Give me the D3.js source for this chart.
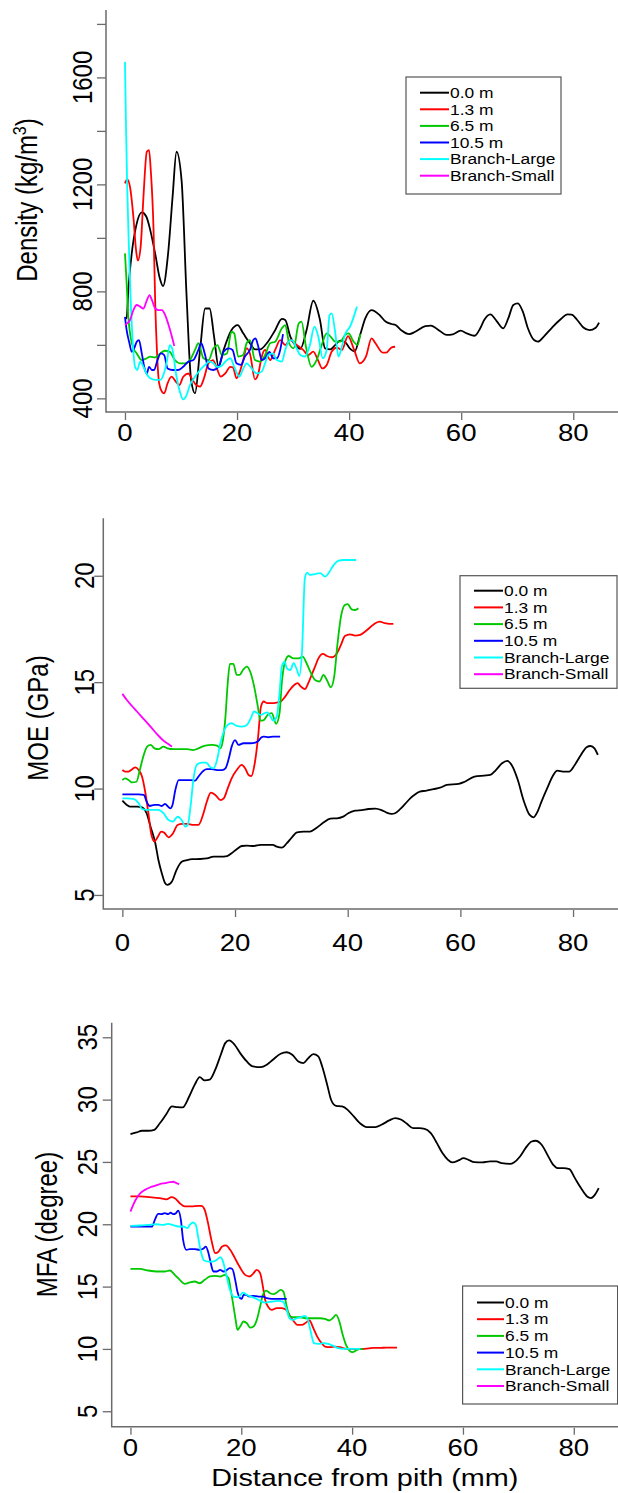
<!DOCTYPE html>
<html>
<head>
<meta charset="utf-8">
<script src="https://cdn.jsdelivr.net/npm/d3@7"></script>
<style>
  html, body { margin: 0; padding: 0; background: #fff; }
  svg { display: block; }
</style>
</head>
<body>
<svg id="chart" width="618" height="1493"></svg>
<script>
// ---------------- DATA ----------------
const seriesNames = ["0.0 m", "1.3 m", "6.5 m", "10.5 m", "Branch-Large", "Branch-Small"];
const seriesColors = ["#000000", "#ff0000", "#00c800", "#0000ff", "#00ffff", "#ff00ff"];
const xTickValues = [0, 20, 40, 60, 80];

const densityTicks = [400, 600, 800, 1000, 1200, 1400, 1600, 1800];
const densityTickLabels = [400, 800, 1200, 1600];
const moeTicks = [5, 10, 15, 20];
const moeTickLabels = [5, 10, 15, 20];
const mfaTicks = [5, 10, 15, 20, 25, 30, 35];
const mfaTickLabels = [5, 10, 15, 20, 25, 30, 35];

// Density (kg/m3) vs distance from pith (mm)
const density00 = [[0,699],[0.3,700],[0.6,805],[1.2,940],[2.0,1045],[3.0,1095],[3.8,1080],[4.5,1030],[5.4,940],[6.2,850],[6.8,820],[7.7,942],[8.5,1154],[9.2,1322],[10.1,1216],[11.0,780],[11.8,469],[12.5,419],[13.4,581],[14.3,736],[15.1,736],[15.9,631],[16.7,518],[17.6,581],[19.0,655],[20.1,674],[21.1,643],[22.3,606],[23.2,583],[24.1,583],[25.3,606],[26.8,655],[28.0,697],[28.6,693],[29.5,631],[30.4,599],[31.3,585],[32.4,655],[33.6,765],[34.8,693],[35.7,587],[36.6,583],[37.5,599],[38.4,616],[39.3,610],[40.2,585],[41.0,576],[42.0,640],[42.9,700],[44.0,730],[45.4,712],[46.5,687],[47.6,678],[48.3,674],[49.3,655],[50.7,640],[51.8,649],[53.6,670],[54.6,672],[56.0,655],[57.4,637],[58.5,639],[59.9,653],[61.0,643],[62.4,634],[63.4,662],[64.1,693],[65.2,714],[66.3,690],[67.5,662],[68.4,699],[69.3,749],[70.1,755],[71.0,724],[71.9,662],[73.0,618],[73.7,612],[74.7,630],[76.1,662],[77.6,693],[79.0,714],[79.7,713],[80.7,693],[81.8,665],[82.9,655],[84.0,664],[84.6,683]];
const density13 = [[0,1204],[0.4,1219],[0.9,1191],[1.5,1079],[2.0,950],[2.3,915],[2.8,967],[3.3,1154],[3.9,1322],[4.3,1328],[4.6,1254],[5.1,1029],[5.4,755],[5.7,581],[6.1,456],[6.6,425],[7.0,419],[7.6,456],[8.3,481],[9.1,462],[9.7,450],[10.4,481],[11.3,493],[11.9,475],[12.7,450],[13.4,444],[14.1,475],[14.9,531],[15.7,543],[16.3,518],[17.1,481],[17.9,493],[18.8,518],[19.3,515],[19.9,475],[20.5,500],[21.1,543],[21.7,587],[22.3,568],[23.2,471],[23.8,493],[24.4,556],[25.0,581],[25.9,543],[26.8,581],[27.7,618],[28.6,599],[29.5,618],[30.7,599],[31.8,581],[32.7,562],[33.6,575],[34.5,540],[35.2,512],[36.0,525],[36.9,575],[37.8,590],[38.7,581],[39.8,633],[40.9,581],[41.9,531],[43.0,556],[44.0,624],[44.7,606],[46.0,571],[46.6,571],[47.6,591],[48.2,593]];
const density65 = [[0,942],[0.3,830],[0.6,705],[1.0,630],[1.5,587],[2.1,568],[3.0,543],[3.9,550],[4.5,556],[5.4,553],[6.3,568],[7.1,578],[8.0,574],[8.9,543],[9.8,531],[10.7,531],[11.6,543],[12.5,581],[13.1,606],[14.0,550],[14.9,543],[15.8,587],[16.5,599],[17.3,562],[18.2,568],[19.0,649],[19.5,643],[20.2,556],[21.1,562],[21.7,606],[22.3,618],[23.2,543],[24.1,537],[25.0,562],[25.9,606],[26.8,612],[28.0,662],[28.6,674],[29.3,606],[30.1,587],[31.0,680],[31.5,687],[32.3,593],[33.3,518],[34.2,543],[35.1,599],[36.0,643],[36.7,631],[37.5,612],[38.4,612],[39.3,637],[39.9,643],[40.8,612],[41.5,600],[42.0,640]];
const density105 = [[0,705],[0.3,655],[0.8,606],[1.2,574],[1.7,590],[2.1,612],[2.5,618],[3.0,568],[3.5,512],[3.9,493],[4.3,518],[4.8,506],[5.2,506],[5.8,543],[6.4,568],[7.0,562],[7.6,512],[8.5,506],[9.5,506],[10.4,518],[11.3,537],[12.2,543],[13.1,581],[13.6,606],[14.3,562],[14.9,512],[15.8,506],[16.7,518],[17.6,574],[18.5,587],[19.2,581],[19.9,531],[20.7,525],[21.4,556],[22.3,581],[22.9,618],[23.3,624],[23.8,593],[24.4,543],[25.0,550],[25.8,574],[26.4,550],[27.1,550],[27.7,581],[28.2,640]];
const densityBL = [[0,1658],[0.2,1403],[0.4,1191],[0.7,967],[1.0,780],[1.4,606],[1.8,518],[2.2,506],[2.7,537],[3.3,518],[3.9,490],[4.5,475],[5.4,469],[6.3,469],[6.9,490],[7.5,540],[8.0,599],[8.5,581],[9.1,493],[9.8,425],[10.4,396],[11.0,412],[11.6,450],[12.5,481],[13.4,506],[14.3,525],[15.1,537],[15.8,531],[16.4,518],[17.1,520],[17.9,537],[18.8,550],[19.6,512],[20.4,481],[21.0,506],[21.7,531],[22.6,512],[23.5,493],[24.4,500],[25.0,531],[25.6,562],[26.4,568],[27.1,543],[28.0,537],[28.6,581],[29.2,612],[29.8,618],[30.5,593],[31.3,562],[32.1,556],[33.0,599],[33.8,668],[34.5,631],[35.3,550],[36.0,581],[36.5,711],[36.9,718],[37.5,649],[38.1,556],[38.7,593],[39.3,640],[40.2,670],[41.4,743]];
const densityBS = [[0,674],[0.4,680],[0.9,693],[1.5,730],[2.1,749],[2.7,743],[3.3,736],[3.8,761],[4.4,786],[4.8,768],[5.4,736],[6.0,730],[6.6,730],[7.1,715],[7.7,680],[8.3,637],[8.8,596]];

// MOE (GPa)
const moe00 = [[0,9.43],[0.8,9.23],[1.4,9.15],[2.6,9.15],[3.5,9.12],[4.3,8.84],[5.0,8.21],[5.85,7.43],[6.4,6.64],[7.0,6.02],[7.6,5.55],[8.0,5.47],[8.8,5.63],[9.6,6.17],[10.6,6.57],[11.5,6.64],[12.4,6.68],[13.8,6.69],[15.0,6.72],[16.2,6.80],[17.4,6.80],[18.6,6.83],[19.4,6.96],[20.3,7.15],[21.2,7.30],[22.1,7.32],[23.3,7.30],[24.5,7.35],[25.7,7.35],[26.7,7.35],[27.4,7.27],[28.3,7.22],[29.2,7.43],[30.1,7.71],[31.0,7.94],[32.2,7.98],[33.3,7.98],[34.5,8.16],[35.7,8.40],[36.9,8.59],[38.1,8.60],[39.2,8.68],[40.1,8.84],[41.3,8.96],[42.5,8.99],[43.7,9.04],[44.9,9.06],[46.0,8.99],[46.9,8.87],[47.8,8.81],[48.4,8.84],[49.3,9.03],[50.2,9.28],[51.1,9.54],[52.0,9.73],[52.8,9.86],[54.0,9.90],[55.2,9.97],[56.4,10.04],[57.6,10.17],[59.7,10.22],[60.7,10.31],[62.5,10.56],[64.2,10.61],[65.3,10.64],[66.3,10.87],[67.4,11.19],[68.3,11.30],[69.1,11.11],[70.2,10.40],[71.2,9.46],[72.3,8.76],[73.0,8.65],[73.7,8.92],[74.4,9.39],[75.4,10.01],[76.5,10.64],[77.2,10.84],[78.2,10.80],[79.3,10.80],[80.3,11.11],[81.4,11.58],[82.4,11.94],[83.1,12.0],[83.8,11.89],[84.4,11.58]];
const moe13 = [[0,10.87],[0.5,10.80],[1.1,10.80],[1.7,10.9],[2.3,11.0],[2.9,10.87],[3.5,10.56],[4.1,9.78],[4.7,8.68],[5.1,7.9],[5.7,7.51],[6.3,7.74],[6.9,7.98],[7.4,7.93],[8.2,7.71],[9.0,7.9],[9.8,8.29],[10.6,8.34],[11.5,8.34],[12.6,8.29],[13.5,8.29],[14.4,8.84],[15.0,9.39],[15.7,9.81],[16.5,9.70],[17.4,9.46],[18.0,9.54],[18.7,10.01],[19.4,10.48],[20.3,10.87],[21.2,11.11],[21.8,10.95],[22.4,10.64],[22.9,10.59],[23.5,11.19],[24.1,12.44],[24.6,13.85],[25.1,14.09],[25.7,14.01],[26.5,14.01],[27.4,14.04],[28.1,14.09],[28.9,14.32],[29.7,14.63],[30.5,14.87],[31.1,14.95],[31.7,14.79],[32.4,14.67],[33.0,14.95],[33.6,15.34],[34.2,15.73],[34.8,16.12],[35.6,16.33],[36.3,16.23],[37.2,16.17],[38.1,16.36],[38.8,16.75],[39.5,17.17],[40.4,17.25],[41.3,17.19],[42.2,17.22],[43.1,17.38],[44.0,17.58],[44.9,17.77],[45.7,17.84],[46.6,17.77],[47.4,17.74],[48.1,17.74]];
const moe65 = [[0,10.40],[0.5,10.48],[1.1,10.40],[1.7,10.29],[2.5,10.32],[3.1,10.87],[3.7,11.50],[4.4,11.97],[5.0,12.05],[5.7,11.89],[6.4,11.85],[7.3,11.97],[8.0,11.89],[9.1,11.85],[10.3,11.85],[11.5,11.85],[12.6,11.81],[13.5,11.89],[14.7,12.02],[15.9,12.05],[16.8,12.02],[17.4,11.89],[17.85,12.28],[18.3,13.38],[18.7,14.95],[19.1,15.86],[19.7,15.86],[20.3,15.34],[20.8,15.34],[21.4,15.57],[22.1,15.73],[22.7,15.49],[23.4,14.79],[24.05,13.85],[24.5,13.19],[25.1,13.22],[25.8,13.46],[26.5,13.54],[27.3,13.04],[27.9,13.54],[28.3,14.95],[28.8,15.89],[29.5,16.23],[30.4,16.12],[31.3,16.12],[32.0,16.20],[32.7,15.89],[33.5,15.42],[34.2,15.10],[35.0,15.03],[35.7,15.34],[36.3,15.10],[37.0,14.76],[37.6,15.26],[38.2,16.83],[38.8,18.08],[39.5,18.63],[40.0,18.67],[40.7,18.42],[41.3,18.39],[41.9,18.47]];
const moe105 = [[0,9.73],[1.4,9.73],[2.9,9.73],[3.8,9.70],[4.3,9.39],[4.85,9.18],[5.7,9.23],[6.4,9.23],[7.0,9.18],[7.6,9.28],[8.0,9.18],[8.5,9.07],[8.9,9.23],[9.4,9.93],[10.0,10.40],[10.9,10.40],[12.1,10.40],[12.9,10.37],[13.5,10.56],[14.4,10.84],[15.0,10.91],[15.9,10.91],[16.8,10.87],[17.7,10.87],[18.3,10.95],[18.9,11.42],[19.4,11.97],[20.0,12.28],[20.6,12.05],[21.5,12.13],[22.7,12.13],[23.6,12.16],[24.2,12.25],[24.6,12.39],[25.1,12.44],[25.9,12.41],[26.8,12.44],[28.0,12.44]];
const moeBL = [[0,9.54],[0.8,9.54],[2.0,9.51],[2.9,9.31],[3.5,9.03],[4.4,9.0],[5.6,9.0],[6.4,9.0],[7.3,8.84],[8.2,8.52],[9.0,8.45],[9.8,8.68],[10.6,8.49],[11.2,8.21],[11.6,8.29],[12.1,9.15],[12.6,10.40],[13.2,11.11],[14.1,11.22],[14.9,11.22],[15.5,11.03],[16.2,10.95],[16.8,11.34],[17.4,12.13],[18.0,12.68],[18.7,12.99],[19.4,13.07],[20.3,12.94],[21.2,12.91],[22.1,12.99],[22.8,13.30],[23.4,13.62],[24.0,13.54],[24.6,13.46],[25.2,13.54],[25.7,13.58],[26.2,13.43],[26.8,13.19],[27.4,13.38],[27.9,14.48],[28.3,15.73],[28.8,15.96],[29.2,15.65],[29.8,15.57],[30.4,15.89],[31.0,15.57],[31.4,15.29],[31.9,16.5],[32.4,19.9],[32.8,20.15],[33.3,20.04],[34.2,20.08],[35.1,20.12],[36.0,19.96],[36.6,20.12],[37.5,20.5],[38.4,20.71],[39.2,20.74],[41.0,20.74],[41.5,20.74]];
const moeBS = [[0,14.45],[0.8,14.16],[1.7,13.88],[2.6,13.62],[3.8,13.26],[5.0,12.91],[6.1,12.57],[7.3,12.25],[8.2,12.08],[8.8,11.97]];

// MFA (degree)
const mfa00 = [[0,27.23],[1.1,27.37],[2.1,27.5],[3.2,27.5],[4.3,27.58],[5.3,28.1],[6.4,28.78],[7.5,29.45],[8.4,29.4],[9.4,29.37],[10.6,30.25],[11.6,31.2],[12.5,31.8],[13.4,31.54],[14.3,31.6],[15.3,32.4],[16.3,33.6],[17.1,34.53],[17.8,34.75],[18.8,34.4],[19.8,33.73],[21.0,33.06],[22.1,32.66],[23.5,32.6],[24.6,32.8],[25.7,33.2],[27.1,33.68],[28.2,33.8],[29.2,33.6],[30.3,33.06],[31.2,32.93],[32.1,33.33],[33.0,33.65],[33.9,33.47],[34.6,32.66],[35.5,31.2],[36.2,29.99],[37.1,29.5],[38.2,29.45],[39.2,29.18],[40.3,28.65],[41.4,28.11],[42.65,27.79],[44.2,27.79],[45.3,27.98],[46.7,28.33],[47.8,28.52],[48.9,28.38],[49.9,28.06],[51.0,27.71],[52.1,27.71],[53.1,27.66],[54.2,27.31],[55.3,26.51],[56.3,25.71],[57.3,25.17],[58.1,24.96],[59.2,25.12],[60.1,25.3],[61.0,25.17],[62.05,24.98],[63.5,24.96],[64.9,25.04],[66.0,25.04],[67.0,24.9],[68.5,24.85],[69.2,24.96],[70.3,25.44],[71.3,26.11],[72.4,26.64],[73.1,26.7],[74.2,26.38],[75.25,25.57],[76.3,24.77],[77.2,24.5],[78.1,24.5],[79.2,24.42],[80.2,23.7],[81.3,22.9],[82.4,22.23],[83.1,22.1],[83.8,22.36],[84.5,22.9]];
const mfa13 = [[0,22.23],[1.7,22.23],[3.5,22.17],[5.3,22.09],[6.5,22.0],[7.4,22.17],[8.0,22.09],[8.9,21.69],[9.8,21.43],[11.0,21.43],[12.2,21.48],[12.8,21.48],[13.4,21.16],[14.0,20.09],[14.6,18.75],[15.3,17.68],[15.9,17.81],[16.5,18.2],[17.2,18.3],[18.0,17.95],[18.7,17.41],[19.5,16.74],[20.1,16.29],[20.7,15.94],[21.5,15.81],[22.1,16.02],[22.8,16.34],[23.4,16.08],[23.9,15.0],[24.3,13.94],[24.9,13.35],[25.5,13.13],[26.4,13.27],[27.3,13.27],[28.1,13.13],[28.7,12.73],[29.5,12.2],[30.1,11.93],[30.9,11.93],[31.7,12.12],[32.3,12.28],[33.0,11.66],[33.7,10.99],[34.5,10.46],[35.1,10.19],[36.0,10.14],[36.9,10.19],[37.8,10.14],[39.0,10.0],[40.2,9.98],[41.4,9.98],[42.6,10.03],[43.8,10.08],[45.0,10.08],[46.2,10.11],[48.1,10.11]];
const mfa65 = [[0,16.42],[1.7,16.42],[3.2,16.29],[4.7,16.21],[6.2,16.21],[7.1,16.29],[8.0,15.94],[8.9,15.54],[9.8,15.22],[10.7,15.33],[11.6,15.41],[12.5,15.27],[13.4,15.54],[14.35,15.81],[15.25,15.86],[16.2,15.81],[17.0,15.94],[17.7,15.67],[18.1,14.74],[18.6,13.4],[19.0,12.28],[19.3,11.53],[19.8,11.8],[20.4,12.2],[21.0,12.06],[21.6,11.71],[22.2,11.8],[22.8,12.33],[23.4,13.4],[23.9,14.34],[24.5,14.68],[25.2,14.47],[25.8,14.39],[26.4,14.52],[27.1,14.74],[27.6,14.6],[28.2,13.4],[28.8,12.6],[29.5,12.54],[30.6,12.54],[31.8,12.46],[32.9,12.46],[34.2,12.46],[35.1,12.41],[35.9,12.28],[36.5,12.46],[37.1,12.73],[37.7,12.2],[38.3,11.13],[38.9,10.32],[39.5,9.87],[40.1,9.74],[40.7,9.87],[41.3,9.98],[42.0,9.98]];
const mfa105 = [[0,19.82],[1.7,19.82],[3.2,19.82],[3.9,19.82],[4.4,20.36],[5.0,20.84],[5.6,20.81],[6.2,20.89],[6.8,20.81],[7.25,20.94],[7.7,20.81],[8.2,20.89],[8.6,21.1],[9.1,20.36],[9.5,18.75],[10.1,17.95],[10.7,18.0],[11.6,18.0],[12.5,17.95],[13.1,18.03],[13.6,18.2],[14.0,17.81],[14.5,16.88],[14.95,16.21],[15.55,16.21],[16.2,16.34],[16.8,16.21],[17.3,16.29],[17.9,16.48],[18.4,16.4],[18.9,15.54],[19.3,14.6],[19.8,14.07],[20.1,14.02],[20.4,14.34],[20.85,14.34],[21.5,14.2],[22.2,14.26],[23.1,14.2],[24.0,14.2],[24.6,14.07],[25.5,14.02],[26.4,14.02],[27.3,14.02],[28.2,14.02]];
const mfaBL = [[0,19.87],[1.7,19.9],[3.2,19.95],[4.7,20.0],[5.9,19.95],[6.8,20.03],[7.7,19.93],[8.6,19.82],[9.5,19.82],[10.3,19.69],[10.7,19.95],[11.3,20.14],[11.8,19.95],[12.2,19.02],[12.7,17.81],[13.3,17.09],[14.0,17.01],[14.8,17.01],[15.6,17.15],[16.2,17.36],[16.6,17.15],[17.1,16.34],[17.5,15.54],[17.95,14.74],[18.6,14.2],[19.5,14.15],[20.25,14.52],[21.0,14.34],[21.7,14.2],[22.5,14.07],[23.4,13.86],[24.3,13.72],[25.5,13.8],[26.7,13.86],[27.5,13.8],[28.1,13.27],[28.7,12.46],[29.3,12.33],[30.0,12.46],[30.7,12.54],[31.5,12.65],[32.1,12.2],[32.6,11.26],[33.1,10.46],[33.9,10.4],[34.8,10.46],[35.7,10.4],[36.6,10.24],[37.5,10.06],[38.4,10.0],[39.6,10.0],[40.8,10.0],[41.5,10.0]];
const mfaBS = [[0,21.02],[0.5,21.56],[1.1,22.09],[1.8,22.5],[2.6,22.76],[3.5,22.95],[4.4,23.08],[5.3,23.22],[6.2,23.3],[7.1,23.38],[7.7,23.41],[8.3,23.3],[8.8,23.22]];

// ---------------- LAYOUT ----------------
const FONT = "'Liberation Sans', Arial, sans-serif";
const SX = 1.15;          // horizontal stretch of tick-label glyphs
const SX_TITLE = 1.2;     // horizontal stretch of axis titles
const SX_LEG = 1.2;       // horizontal stretch of legend text
const AXIS_COLOR = "#6b6b6b";
const X_DOMAIN = [-3.384, 87.98];
const RIGHT = 618;

const panels = [
  { series: [density00, density13, density65, density105, densityBL, densityBS],
    left: 106, top: 10, bottom: 412, yDomain: [349, 1852],
    yTicks: densityTicks, yLabels: densityTickLabels,
    xLabelY: 441, yLabelX: 92, titleX: 37, titleY: 200, title: "density",
    legend: { x: 406, y: 77, w: 155, h: 117, row0: 92.7, step: 16.6, l1: 420, l2: 449, tx: 450 } },
  { series: [moe00, moe13, moe65, moe105, moeBL, moeBS],
    left: 103.3, top: 518.3, bottom: 909, yDomain: [4.34, 22.7],
    yTicks: moeTicks, yLabels: moeTickLabels,
    xLabelY: 951, yLabelX: 93.5, titleX: 48, titleY: 718, title: "MOE (GPa)",
    legend: { x: 460, y: 575.7, w: 157, h: 112.6, row0: 590.7, step: 16.7, l1: 474, l2: 503, tx: 504 } },
  { series: [mfa00, mfa13, mfa65, mfa105, mfaBL, mfaBS],
    left: 111.7, top: 1022.7, bottom: 1426.7, yDomain: [3.76, 36.17],
    yTicks: mfaTicks, yLabels: mfaTickLabels,
    xLabelY: 1456, yLabelX: 97, titleX: 57, titleY: 1224.5, title: "MFA (degree)",
    legend: { x: 462.6, y: 1286, w: 155, h: 118, row0: 1302.5, step: 16.7, l1: 477, l2: 504, tx: 505 } }
];

const svg = d3.select("#chart");
svg.append("rect").attr("width", 618).attr("height", 1493).attr("fill", "#fff");

panels.forEach((p, pi) => {
  const x = d3.scaleLinear().domain(X_DOMAIN).range([p.left, RIGHT]);
  const y = d3.scaleLinear().domain(p.yDomain).range([p.bottom, p.top]);
  const g = svg.append("g");

  // axis ticks via d3 axes
  const gx = g.append("g").attr("transform", `translate(0,${p.bottom + 1})`)
    .call(d3.axisBottom(x).tickValues(xTickValues).tickSize(7).tickFormat(""));
  gx.select(".domain").remove();
  gx.selectAll("line").attr("stroke", AXIS_COLOR).attr("stroke-width", 1.3);

  const gy = g.append("g").attr("transform", `translate(${p.left},0)`)
    .call(d3.axisLeft(y).tickValues(p.yTicks).tickSize(9).tickFormat(""));
  gy.select(".domain").remove();
  gy.selectAll("line").attr("stroke", AXIS_COLOR).attr("stroke-width", 1.3);

  // L-shaped frame
  g.append("path")
    .attr("d", `M${p.left},${p.top}V${p.bottom}H${RIGHT}`)
    .attr("fill", "none").attr("stroke", AXIS_COLOR).attr("stroke-width", 1.5);

  // x tick labels
  g.selectAll(".xl").data(xTickValues).enter().append("text")
    .attr("transform", d => `translate(${x(d)},${p.xLabelY}) scale(${SX},1)`)
    .attr("text-anchor", "middle")
    .attr("font-family", FONT).attr("font-size", 24).attr("fill", "#000")
    .text(d => d);

  // y tick labels (rotated)
  g.selectAll(".yl").data(p.yLabels).enter().append("text")
    .attr("transform", d => `translate(${p.yLabelX},${y(d)}) scale(${SX},1) rotate(-90)`)
    .attr("text-anchor", "middle")
    .attr("font-family", FONT).attr("font-size", 24).attr("fill", "#000")
    .text(d => d);

  // y axis title
  const t = g.append("text")
    .attr("transform", `translate(${p.titleX},${p.titleY}) scale(${SX_TITLE},1) rotate(-90)`)
    .attr("text-anchor", "middle")
    .attr("font-family", FONT).attr("font-size", 24).attr("fill", "#000");
  if (p.title === "density") {
    t.append("tspan").text("Density (kg/m");
    t.append("tspan").attr("dy", -9).attr("font-size", 16).text("3");
    t.append("tspan").attr("dy", 9).text(")");
  } else {
    t.text(p.title);
  }

  // lines
  const line = d3.line().x(d => x(d[0])).y(d => y(d[1])).curve(d3.curveMonotoneX);
  p.series.forEach((s, i) => {
    g.append("path").datum(s)
      .attr("d", line)
      .attr("fill", "none")
      .attr("stroke", seriesColors[i])
      .attr("stroke-width", 1.8)
      .attr("stroke-linejoin", "round");
  });

  // legend
  const L = p.legend;
  const lg = g.append("g");
  lg.append("rect").attr("x", L.x).attr("y", L.y).attr("width", L.w).attr("height", L.h)
    .attr("fill", "#fff").attr("stroke", "#555").attr("stroke-width", 1.2);
  seriesNames.forEach((name, i) => {
    const ry = L.row0 + i * L.step;
    lg.append("line").attr("x1", L.l1).attr("x2", L.l2).attr("y1", ry).attr("y2", ry)
      .attr("stroke", seriesColors[i]).attr("stroke-width", 2);
    lg.append("text")
      .attr("transform", `translate(${L.tx},${ry + 5.2}) scale(${SX_LEG},1)`)
      .attr("font-family", FONT).attr("font-size", 14.5).attr("fill", "#000")
      .text(name);
  });

  if (pi === 2) {
    g.append("text")
      .attr("transform", `translate(${(p.left + RIGHT) / 2},1486) scale(${SX_TITLE},1)`)
      .attr("text-anchor", "middle")
      .attr("font-family", FONT).attr("font-size", 24).attr("fill", "#000")
      .text("Distance from pith (mm)");
  }
});
</script>
</body>
</html>
